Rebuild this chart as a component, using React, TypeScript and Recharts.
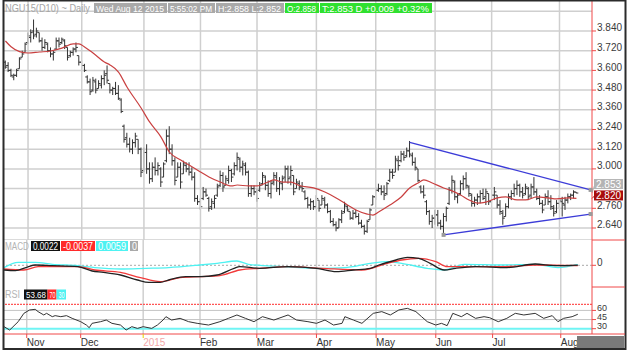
import React from "react";
import { ComposedChart, Bar, Line, XAxis, YAxis, CartesianGrid, ReferenceLine } from "recharts";

const FONT = '"Liberation Sans", Arial, sans-serif';
const RED = "#f04848";
const GRID = "#cfcfcf";

// daily bars, Oct 23 2014 .. Aug 12 2015: [open, high, low, close]
const OHLC: number[][] = [
  [3.65, 3.66, 3.61, 3.62], [3.63, 3.65, 3.59, 3.6], [3.6, 3.61, 3.56, 3.57], [3.56, 3.58, 3.54, 3.57],
  [3.57, 3.61, 3.56, 3.6], [3.61, 3.68, 3.61, 3.67], [3.68, 3.72, 3.68, 3.7], [3.71, 3.77, 3.71, 3.76],
  [3.77, 3.83, 3.76, 3.81], [3.8, 3.85, 3.77, 3.83], [3.84, 3.91, 3.79, 3.81], [3.82, 3.86, 3.8, 3.84],
  [3.83, 3.83, 3.77, 3.78], [3.78, 3.8, 3.72, 3.74], [3.74, 3.79, 3.73, 3.77], [3.76, 3.77, 3.71, 3.72],
  [3.72, 3.74, 3.68, 3.7], [3.7, 3.72, 3.66, 3.71], [3.73, 3.8, 3.73, 3.78], [3.78, 3.8, 3.74, 3.76],
  [3.77, 3.8, 3.76, 3.79], [3.78, 3.79, 3.73, 3.75], [3.74, 3.74, 3.66, 3.68], [3.69, 3.72, 3.68, 3.71],
  [3.71, 3.74, 3.69, 3.73], [3.73, 3.77, 3.71, 3.74], [3.69, 3.69, 3.63, 3.65], [3.65, 3.66, 3.61, 3.63],
  [3.63, 3.64, 3.59, 3.6], [3.56, 3.57, 3.52, 3.53], [3.53, 3.55, 3.45, 3.47], [3.48, 3.56, 3.47, 3.54],
  [3.53, 3.55, 3.46, 3.48], [3.49, 3.54, 3.49, 3.52], [3.51, 3.57, 3.49, 3.55], [3.55, 3.6, 3.51, 3.57],
  [3.58, 3.63, 3.52, 3.54], [3.52, 3.52, 3.46, 3.48], [3.48, 3.5, 3.45, 3.49], [3.49, 3.53, 3.45, 3.46],
  [3.46, 3.51, 3.42, 3.43], [3.42, 3.43, 3.34, 3.35], [3.26, 3.27, 3.16, 3.18], [3.19, 3.22, 3.13, 3.15],
  [3.15, 3.19, 3.1, 3.12], [3.12, 3.18, 3.09, 3.16], [3.16, 3.22, 3.13, 3.2], [3.18, 3.18, 3.09, 3.12],
  [3.12, 3.13, 2.95, 2.98], [2.99, 3.13, 2.98, 3.1], [3.1, 3.15, 2.97, 3.0], [3.0, 3.04, 2.91, 2.94],
  [2.94, 3.04, 2.92, 3.01], [3.01, 3.07, 2.96, 2.99], [2.99, 3.04, 2.96, 3.02], [3.0, 3.01, 2.89, 2.92],
  [2.95, 3.04, 2.95, 3.03], [3.05, 3.24, 3.04, 3.2], [3.2, 3.26, 3.09, 3.12], [3.12, 3.15, 3.02, 3.05],
  [3.05, 3.07, 2.9, 2.93], [2.95, 3.04, 2.95, 3.01], [3.01, 3.04, 2.88, 2.92], [2.97, 3.05, 2.97, 3.03],
  [3.02, 3.04, 2.98, 3.0], [3.0, 3.04, 2.96, 2.98], [2.98, 3.01, 2.93, 2.95], [2.95, 2.98, 2.8, 2.82],
  [2.82, 2.84, 2.78, 2.8], [2.8, 2.82, 2.75, 2.77], [2.82, 2.89, 2.81, 2.86], [2.86, 2.88, 2.83, 2.84],
  [2.82, 2.83, 2.74, 2.76], [2.77, 2.82, 2.75, 2.8], [2.79, 2.84, 2.76, 2.82], [2.84, 2.91, 2.83, 2.89],
  [2.9, 2.99, 2.89, 2.96], [2.96, 2.98, 2.86, 2.89], [2.9, 2.96, 2.9, 2.94], [2.93, 3.02, 2.91, 2.99],
  [2.99, 3.0, 2.92, 2.95], [2.97, 3.04, 2.96, 3.02], [3.02, 3.1, 2.99, 3.07], [3.06, 3.07, 2.98, 3.01],
  [3.01, 3.05, 2.96, 3.03], [3.02, 3.04, 2.96, 2.98], [2.98, 2.99, 2.83, 2.85], [2.85, 2.9, 2.83, 2.88],
  [2.88, 2.9, 2.84, 2.86], [2.86, 2.88, 2.8, 2.82], [2.87, 2.92, 2.86, 2.9], [2.91, 2.98, 2.9, 2.96],
  [2.95, 2.96, 2.87, 2.9], [2.9, 2.93, 2.83, 2.85], [2.85, 2.93, 2.82, 2.91], [2.92, 2.98, 2.9, 2.96],
  [2.95, 2.98, 2.86, 2.88], [2.88, 2.95, 2.84, 2.92], [2.91, 2.96, 2.87, 2.94], [2.95, 3.02, 2.92, 3.0],
  [3.0, 3.02, 2.91, 2.94], [2.95, 3.02, 2.9, 2.99], [2.96, 2.96, 2.84, 2.86], [2.88, 2.94, 2.88, 2.92],
  [2.91, 2.93, 2.87, 2.89], [2.89, 2.92, 2.86, 2.88], [2.86, 2.87, 2.81, 2.82], [2.82, 2.83, 2.76, 2.78],
  [2.78, 2.82, 2.75, 2.8], [2.8, 2.81, 2.75, 2.77], [2.77, 2.84, 2.76, 2.82], [2.81, 2.81, 2.74, 2.76],
  [2.78, 2.84, 2.78, 2.82], [2.81, 2.83, 2.76, 2.78], [2.78, 2.79, 2.73, 2.74], [2.74, 2.75, 2.67, 2.68],
  [2.68, 2.7, 2.65, 2.66], [2.66, 2.68, 2.62, 2.64], [2.64, 2.7, 2.64, 2.69], [2.69, 2.75, 2.67, 2.73],
  [2.74, 2.8, 2.73, 2.78], [2.77, 2.78, 2.74, 2.75], [2.74, 2.74, 2.69, 2.7], [2.7, 2.75, 2.69, 2.73],
  [2.73, 2.75, 2.7, 2.71], [2.71, 2.73, 2.66, 2.67], [2.67, 2.69, 2.64, 2.65], [2.65, 2.66, 2.6, 2.62],
  [2.62, 2.69, 2.61, 2.68], [2.69, 2.76, 2.69, 2.75], [2.78, 2.84, 2.78, 2.83], [2.83, 2.89, 2.81, 2.87],
  [2.87, 2.91, 2.86, 2.88], [2.88, 2.9, 2.84, 2.86], [2.86, 2.9, 2.81, 2.84], [2.85, 2.92, 2.84, 2.91],
  [2.93, 3.0, 2.92, 2.98], [2.98, 3.0, 2.94, 2.96], [2.98, 3.08, 2.98, 3.06], [3.05, 3.08, 2.99, 3.02],
  [3.05, 3.11, 3.04, 3.09], [3.09, 3.11, 3.05, 3.07], [3.08, 3.13, 3.07, 3.11], [3.11, 3.17, 3.07, 3.09],
  [3.08, 3.1, 3.02, 3.04], [3.04, 3.07, 2.99, 3.01], [3.0, 3.0, 2.92, 2.93], [2.89, 2.9, 2.85, 2.86],
  [2.86, 2.9, 2.82, 2.84], [2.8, 2.81, 2.72, 2.74], [2.74, 2.75, 2.66, 2.68], [2.68, 2.72, 2.64, 2.7],
  [2.7, 2.75, 2.66, 2.72], [2.72, 2.75, 2.65, 2.67], [2.67, 2.69, 2.63, 2.65], [2.65, 2.73, 2.61, 2.71],
  [2.71, 2.77, 2.68, 2.76], [2.79, 2.89, 2.78, 2.87], [2.87, 2.96, 2.85, 2.93], [2.92, 2.93, 2.81, 2.83],
  [2.83, 2.85, 2.79, 2.84], [2.85, 2.93, 2.84, 2.91], [2.91, 2.96, 2.87, 2.94], [2.94, 2.98, 2.88, 2.9],
  [2.89, 2.9, 2.83, 2.85], [2.84, 2.85, 2.77, 2.79], [2.79, 2.83, 2.77, 2.81], [2.81, 2.85, 2.78, 2.83],
  [2.83, 2.87, 2.79, 2.85], [2.85, 2.88, 2.81, 2.82], [2.83, 2.88, 2.78, 2.86], [2.85, 2.85, 2.78, 2.8],
  [2.8, 2.86, 2.79, 2.84], [2.84, 2.89, 2.81, 2.86], [2.84, 2.84, 2.76, 2.78], [2.78, 2.81, 2.72, 2.74],
  [2.73, 2.75, 2.66, 2.7], [2.71, 2.79, 2.71, 2.77], [2.77, 2.85, 2.76, 2.83], [2.83, 2.87, 2.81, 2.85],
  [2.85, 2.91, 2.83, 2.88], [2.88, 2.93, 2.84, 2.9], [2.9, 2.91, 2.83, 2.86], [2.86, 2.89, 2.82, 2.84],
  [2.85, 2.91, 2.84, 2.89], [2.88, 2.89, 2.81, 2.83], [2.84, 2.91, 2.82, 2.89], [2.89, 2.95, 2.84, 2.86],
  [2.86, 2.88, 2.81, 2.82], [2.82, 2.84, 2.78, 2.79], [2.79, 2.81, 2.73, 2.75], [2.78, 2.85, 2.78, 2.83],
  [2.83, 2.87, 2.78, 2.8], [2.8, 2.84, 2.75, 2.77], [2.76, 2.78, 2.71, 2.73], [2.74, 2.81, 2.73, 2.79],
  [2.79, 2.84, 2.76, 2.81], [2.8, 2.83, 2.71, 2.79], [2.78, 2.83, 2.75, 2.81], [2.81, 2.85, 2.79, 2.83],
  [2.83, 2.85, 2.81, 2.84], [2.84, 2.87, 2.82, 2.86], [2.858, 2.858, 2.852, 2.853],
];
const PAD = 5; // empty days right of the last bar, where the trendlines end

// moving average: [bar, value]
const MA_PTS = [
  [0, 3.779], [2, 3.744], [5, 3.714], [8, 3.706], [12, 3.712], [16, 3.718], [20, 3.736], [24, 3.761],
  [26, 3.761], [28, 3.743], [31, 3.706], [35, 3.651], [37, 3.633], [40, 3.59], [43, 3.499], [48, 3.371],
  [51, 3.286], [55, 3.195], [58, 3.103], [62, 3.054], [65, 3.024], [69, 2.981], [72, 2.951], [76, 2.92],
  [80, 2.896], [82, 2.902], [86, 2.896], [89, 2.896], [93, 2.92], [95, 2.933], [98, 2.92], [101, 2.92],
  [104, 2.899], [109, 2.884], [113, 2.859], [117, 2.823], [121, 2.78], [124, 2.75], [128, 2.725],
  [130, 2.719], [132, 2.738], [136, 2.78], [140, 2.829], [143, 2.884], [146, 2.914], [148, 2.933],
  [151, 2.914], [155, 2.884], [158, 2.866], [161, 2.841], [164, 2.811], [167, 2.792], [170, 2.798],
  [174, 2.823], [177, 2.829], [181, 2.811], [184, 2.811], [188, 2.829], [192, 2.823], [195, 2.817],
  [199, 2.823], [202, 2.82],
];
const UPPER_PTS = [[143, 3.162], [207, 2.872]];
const LOWER_PTS = [[155, 2.598], [207, 2.725]];

const MACD_PTS = [
  [0, -0.047], [4, -0.053], [8, -0.02], [11, 0.003], [17, -0.003], [26, -0.013], [31, -0.057], [35, -0.07],
  [41, -0.097], [47, -0.147], [51, -0.17], [55, -0.17], [58, -0.147], [64, -0.113], [69, -0.113],
  [75, -0.097], [81, -0.03], [83, -0.013], [90, -0.03], [100, -0.013], [110, -0.03], [117, -0.063],
  [123, -0.047], [129, -0.03], [132, 0.003], [138, 0.053], [142, 0.08], [146, 0.07], [150, 0.02],
  [155, -0.047], [159, -0.03], [166, -0.013], [177, -0.023], [187, 0.013], [194, -0.003], [202, 0.002],
];
const SIGNAL_PTS = [
  [0, -0.037], [7, -0.047], [12, -0.013], [26, -0.013], [32, -0.047], [41, -0.07], [48, -0.123],
  [55, -0.163], [62, -0.123], [69, -0.113], [76, -0.103], [83, -0.047], [90, -0.03], [100, -0.013],
  [112, -0.03], [126, -0.047], [135, 0.02], [140, 0.053], [146, 0.07], [152, 0.037], [156, -0.013],
  [162, -0.013], [176, -0.013], [187, 0.003], [202, -0.004],
];
const HIST_PTS = [
  [0, -0.023], [5, 0.03], [11, 0.03], [17, 0.01], [26, -0.003], [32, -0.023], [41, -0.037], [50, -0.03],
  [58, -0.023], [69, 0.003], [75, 0.02], [82, 0.043], [86, 0.01], [98, -0.013], [112, -0.03],
  [120, -0.023], [129, 0.02], [135, 0.037], [140, 0.02], [149, -0.03], [155, -0.047], [162, 0.01],
  [176, 0.003], [187, 0.01], [195, -0.023], [202, 0.006],
];
const RSI_PTS = [
  [0, 33.3], [2, 27.8], [5, 41.5], [7, 55.2], [9, 60.7], [11, 61.8], [12, 58], [14, 52.5], [15, 55.2],
  [17, 49.7], [18, 51.4], [20, 49.7], [22, 51.4], [24, 47], [27, 41.5], [29, 36], [30, 31.6], [31, 38.8],
  [34, 41.5], [36, 44.2], [38, 38.8], [41, 36], [43, 27.8], [45, 33.3], [47, 30.5], [49, 33.3], [52, 30.5],
  [54, 36], [56, 44.2], [57, 49.7], [59, 44.2], [62, 47], [65, 41.5], [68, 38.8], [72, 36], [76, 41.5],
  [79, 47], [82, 52.5], [85, 47], [88, 41.5], [91, 49.7], [95, 44.2], [100, 52.5], [103, 44.2],
  [107, 41.5], [110, 38.8], [113, 44.2], [116, 36], [119, 38.8], [120, 49.7], [123, 44.2], [126, 38.8],
  [130, 55.2], [133, 58], [136, 52.5], [139, 60.7], [142, 63.4], [145, 58], [147, 49.7], [149, 41.5],
  [152, 36], [154, 38.8], [156, 35], [158, 55.2], [161, 49.7], [163, 55.2], [166, 47], [169, 49.7],
  [171, 48], [174, 41.5], [177, 47], [180, 55.2], [183, 52.5], [187, 55.2], [190, 47], [193, 51.4],
  [195, 41.5], [197, 47], [200, 49.7], [202, 53.68],
];

const MONTH_AT = [8, 27, 49, 69, 89, 110, 131, 152, 172, 196];
const MONTH_LABELS = ["Nov", "Dec", "2015", "Feb", "Mar", "Apr", "May", "Jun", "Jul", "Aug"];
const PRICE_TICKS = [2.64, 2.76, 2.88, 3.0, 3.12, 3.24, 3.36, 3.48, 3.6, 3.72, 3.84, 3.96];
const PRICE_HIDDEN = [2.88, 3.96];
const LAST = 2.853;
const LAST_MA = 2.82;

const rows: any[] = Array.from({ length: OHLC.length + PAD }, (_, i) => {
  const b = OHLC[i];
  return b ? { i, range: [b[2], b[1]], o: b[0], h: b[1], l: b[2], c: b[3] } : { i };
});
const put = (pts: number[][], key: string) => pts.forEach(([i, v]) => { rows[i][key] = v; });
put(MA_PTS, "ma");
put(UPPER_PTS, "up");
put(LOWER_PTS, "lo");
put(MACD_PTS, "macd");
put(SIGNAL_PTS, "sig");
put(HIST_PTS, "hist");
put(RSI_PTS, "rsi");

const OhlcBar = (p: any) => {
  const d = p.payload;
  if (!d || d.h == null) return <g />;
  const top = Math.min(p.y, p.y + p.height);
  const len = Math.abs(p.height);
  const cx = p.x + p.width / 2;
  const at = (v: number) => (d.h === d.l ? top : top + ((d.h - v) / (d.h - d.l)) * len);
  return (
    <g stroke="#333" strokeWidth={1}>
      <line x1={cx} x2={cx} y1={top} y2={top + Math.max(len, 1)} />
      <line x1={cx - 2} x2={cx} y1={at(d.o)} y2={at(d.o)} />
      <line x1={cx} x2={cx + 2} y1={at(d.c)} y2={at(d.c)} />
    </g>
  );
};

const AxisTick = (p: any) => {
  const { x, y, payload, hidden, digits, size = 10 } = p;
  if (hidden && hidden.includes(payload.value)) return <g />;
  return (
    <g>
      <line x1={x} x2={x + 4} y1={y} y2={y} stroke={RED} />
      <text x={x + 5} y={y - 3} dy="0.35em" fontSize={size} fill="#3a3a3a" fontFamily={FONT}>
        {Number(payload.value).toFixed(digits)}
      </text>
    </g>
  );
};

const MonthTick = (p: any) => {
  const { x, y, payload } = p;
  const label = MONTH_LABELS[MONTH_AT.indexOf(payload.value)];
  const year = label === "2015";
  return (
    <g>
      <line x1={x} x2={x} y1={y} y2={y + 4} stroke={year ? "#e6d200" : RED} />
      <text x={x} y={y + 12} fontSize={10} fill={year ? "#f4a8a8" : "#333"} fontFamily={FONT}>{label}</text>
    </g>
  );
};

const PriceBox = (p: any) => {
  const vb = p.viewBox;
  if (!vb) return null;
  const right = vb.x + vb.width;
  const top = vb.y + p.shift;
  return (
    <g>
      <line x1={right} y1={vb.y} x2={right + 3} y2={top + 5} stroke={p.fill} />
      <rect x={right + 2} y={top} width={29} height={10} fill={p.fill} />
      <text x={right + 4} y={top + 8.5} fontSize={10} fill="#fff" fontFamily={FONT} textLength={25} lengthAdjust="spacingAndGlyphs">
        {p.text}
      </text>
    </g>
  );
};

const squareDot = (keep: number[]) => (p: any) => {
  const { cx, cy, index } = p;
  if (cx == null || cy == null || !keep.includes(index)) return <g key={`d${index}`} />;
  return <rect key={`d${index}`} x={cx - 2} y={cy - 2} width={4} height={4} fill="#9a9a9a" />;
};

const monthLines = () =>
  MONTH_AT.map((m) => <ReferenceLine key={m} x={m} stroke={GRID} strokeWidth={1.5} />);

const yAxisBase = {
  orientation: "right" as const,
  width: 36,
  axisLine: { stroke: RED },
  tickLine: false,
  tickSize: 0,
  tickMargin: 0,
  interval: 0 as const,
  allowDataOverflow: true,
};

const Box = ({ x, y, w, bg, text, color = "#fff", tl, size = 10 }: any) => (
  <g>
    <rect x={x} y={y} width={w} height={10} fill={bg} />
    <text x={x + 2} y={y + 8.5} fontSize={size} fill={color} fontFamily={FONT} textLength={tl ?? w - 5} lengthAdjust="spacingAndGlyphs">
      {text}
    </text>
  </g>
);

export default function App() {
  const m = { top: 0, right: 0, bottom: 0, left: 4 };
  return (
    <div style={{ position: "absolute", left: 0, top: 0, width: 628, height: 354, background: "#fff", overflow: "hidden" }}>
      <div style={{ position: "absolute", left: 0, top: 0 }}>
        <ComposedChart width={628} height={240} data={rows} margin={m}>
          <CartesianGrid vertical={false} stroke={GRID} strokeWidth={1.5} />
          {monthLines()}
          <XAxis dataKey="i" type="category" hide />
          <YAxis {...yAxisBase} domain={[2.5669, 4.0288]} ticks={PRICE_TICKS}
            tick={<AxisTick hidden={PRICE_HIDDEN} digits={3} />} />
          <Bar dataKey="range" shape={OhlcBar} isAnimationActive={false} />
          <Line dataKey="ma" type="monotone" stroke="#c94040" strokeWidth={1.2} dot={false} connectNulls isAnimationActive={false} />
          <Line dataKey="up" type="linear" stroke="#3c3cd8" strokeWidth={1.3} dot={squareDot([207])} connectNulls isAnimationActive={false} />
          <Line dataKey="lo" type="linear" stroke="#3c3cd8" strokeWidth={1.3} dot={squareDot([155, 207])} connectNulls isAnimationActive={false} />
          <ReferenceLine y={LAST} stroke="none" label={<PriceBox fill="#b4b4b4" text="2.853" shift={-14} />} />
          <ReferenceLine y={LAST_MA} stroke="none" label={<PriceBox fill="#a80c0c" text="2.820" shift={-8} />} />
        </ComposedChart>
      </div>
      <div style={{ position: "absolute", left: 0, top: 240 }}>
        <ComposedChart width={628} height={47} data={rows} margin={m}>
          {monthLines()}
          <XAxis dataKey="i" type="category" hide />
          <YAxis {...yAxisBase} domain={[-0.217, 0.253]} ticks={[0]} tick={<AxisTick digits={0} />} />
          <ReferenceLine y={0} stroke="#a8a8a8" strokeDasharray="2 2" />
          <Line dataKey="hist" type="monotone" stroke="#4ef2f2" strokeWidth={1.3} dot={false} connectNulls isAnimationActive={false} />
          <Line dataKey="sig" type="monotone" stroke="#f23a3a" strokeWidth={1.3} dot={false} connectNulls isAnimationActive={false} />
          <Line dataKey="macd" type="monotone" stroke="#222" strokeWidth={1.3} dot={false} connectNulls isAnimationActive={false} />
        </ComposedChart>
      </div>
      <div style={{ position: "absolute", left: 0, top: 287 }}>
        <ComposedChart width={628} height={61} data={rows} margin={m}>
          {monthLines()}
          <ReferenceLine y={70} stroke="#f55" strokeDasharray="2 1" strokeWidth={1.2} />
          <ReferenceLine y={60} stroke="#c4c4c4" />
          <ReferenceLine y={45} stroke="#c4c4c4" />
          <ReferenceLine y={30} stroke="#6ff4f4" strokeWidth={2} />
          <XAxis dataKey="i" type="category" ticks={MONTH_AT} interval={0} height={14}
            axisLine={{ stroke: RED }} tickLine={false} tickSize={0} tickMargin={0} tick={<MonthTick />} />
          <YAxis {...yAxisBase} domain={[21.3, 98.4]} ticks={[30, 45, 60]} tick={<AxisTick digits={0} size={9} />} />
          <Line dataKey="rsi" type="linear" stroke="#333" strokeWidth={1} dot={false} connectNulls isAnimationActive={false} />
        </ComposedChart>
      </div>
      <svg width={628} height={354} style={{ position: "absolute", left: 0, top: 0, pointerEvents: "none" }}>
        <rect x={3.5} y={0.5} width={622} height={348.5} fill="none" stroke="#2b2b2b" strokeWidth={2} />
        <line x1={592} x2={625} y1={240} y2={240} stroke={RED} />
        <line x1={592} x2={625} y1={287} y2={287} stroke={RED} />
        <line x1={592} x2={625} y1={334} y2={334} stroke={RED} />
        <rect x={577} y={336} width={47} height={12} fill="#7a7a7a" />
        <text x={5} y={11.5} fontSize={10} fill="#a6a6a6" fontFamily={FONT} textLength={85} lengthAdjust="spacingAndGlyphs">
          NGU15(D10) ~ Daily
        </text>
        <Box x={94} y={3} w={73} bg="#a9a9a9" text="Wed Aug 12 2015" size={8.5} />
        <Box x={168} y={3} w={47} bg="#a9a9a9" text="5:55:02 PM" size={8.5} />
        <Box x={216} y={3} w={68} bg="#a9a9a9" text="H:2.858 L:2.852" size={8.5} />
        <Box x={285} y={3} w={34} bg="#2fe02f" text="O:2.858" size={8.5} />
        <Box x={320} y={3} w={112} bg="#2fe02f" text="T:2.853 D  +0.009  +0.32%" size={8.5} />
        <text x={5} y={249.5} fontSize={10} fill="#b4b4b4" fontFamily={FONT} textLength={24} lengthAdjust="spacingAndGlyphs">MACD</text>
        <Box x={31} y={241} w={29} bg="#111" text="0.0022" tl={25} />
        <Box x={61} y={241} w={34} bg="#ff2a2a" text="-0.0037" tl={30} />
        <Box x={96} y={241} w={32} bg="#4ef2f2" text="0.0059" tl={28} />
        <Box x={130} y={241} w={8} bg="#a9a9a9" text="0" tl={5} />
        <text x={5} y={298} fontSize={10} fill="#b4b4b4" fontFamily={FONT} textLength={15} lengthAdjust="spacingAndGlyphs">RSI</text>
        <Box x={24} y={289.5} w={23.5} bg="#111" text="53.68" tl={20} size={9} />
        <Box x={47.5} y={289.5} w={9} bg="#ff2a2a" text="70" tl={6} size={9} />
        <Box x={56.5} y={289.5} w={9.5} bg="#4ef2f2" text="30" tl={6} size={9} />
      </svg>
    </div>
  );
}
